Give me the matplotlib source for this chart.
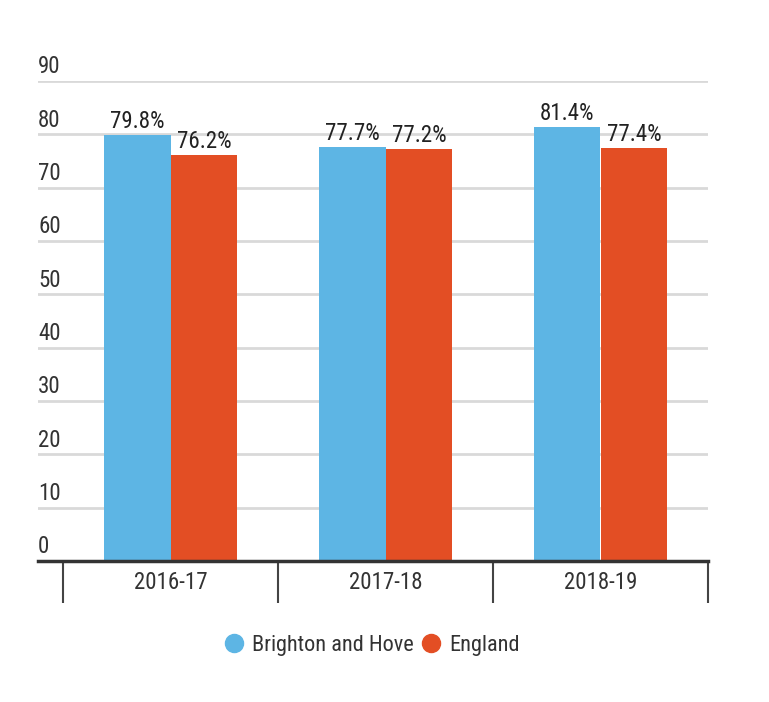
import matplotlib
matplotlib.use("Agg")
import matplotlib.pyplot as plt
import matplotlib.transforms as mtransforms
from matplotlib.lines import Line2D
import numpy as np

plt.rcParams['font.family'] = ['Roboto Condensed', 'DejaVu Sans']

categories = ["2016-17", "2017-18", "2018-19"]
series_names = ["Brighton and Hove", "England"]
brighton = [79.8, 77.7, 81.4]
england = [76.2, 77.2, 77.4]
y_ticks = [0, 10, 20, 30, 40, 50, 60, 70, 80, 90]

blue = "#5DB5E4"
red = "#E34E24"
text_col = "#333333"

W, H = 769, 702
fig = plt.figure(figsize=(W / 100, H / 100), dpi=100)
ax = fig.add_axes([38 / W, (H - 561) / H, (708 - 38) / W, (561 - 81) / H])

x = np.arange(len(categories))
bw = 0.31
ax.bar(x - bw / 2, brighton, width=bw, color=blue, zorder=3)
ax.bar(x + bw / 2, england, width=bw, color=red, zorder=3)

fs = 16.5
for xi, v in zip(x - bw / 2, brighton):
    ax.annotate(f"{v:.1f}%", xy=(xi, v), xytext=(0, 1.5), textcoords="offset points",
                ha="center", va="bottom", fontsize=fs, color="#222222")
for xi, v in zip(x + bw / 2, england):
    ax.annotate(f"{v:.1f}%", xy=(xi, v), xytext=(0, 1.5), textcoords="offset points",
                ha="center", va="bottom", fontsize=fs, color="#222222")

ax.set_xlim(-0.5 - 25 / 215, 2.5)
ax.set_ylim(0, 90)

for t in y_ticks[1:]:
    ax.axhline(t, color="#D9D9D9", lw=2, zorder=1)

trans = mtransforms.blended_transform_factory(ax.transAxes, ax.transData)
for t in y_ticks:
    ax.annotate(str(t), xy=(0, t), xycoords=trans, xytext=(0, 2), textcoords="offset points",
                ha="left", va="bottom", fontsize=fs, color=text_col)

ax.set_yticks([])
for s in ["left", "right", "top"]:
    ax.spines[s].set_visible(False)
ax.spines["bottom"].set_color("#333333")
ax.spines["bottom"].set_linewidth(2.5)
ax.spines["bottom"].set_zorder(4)

ax.set_xticks(x)
ax.set_xticklabels(categories, fontsize=fs, color=text_col)
ax.tick_params(axis="x", which="major", length=0, pad=7)
ax.set_xticks([-0.5, 0.5, 1.5, 2.5], minor=True)
ax.tick_params(axis="x", which="minor", length=30, width=1.5, color="#444444", direction="out")

handles = [Line2D([], [], marker="o", ls="", color=blue, markersize=13),
           Line2D([], [], marker="o", ls="", color=red, markersize=13)]
fig.legend(handles, series_names, loc="center", bbox_to_anchor=(368 / W, 1 - 645 / H),
           ncol=2, frameon=False, fontsize=16, handletextpad=0.0, columnspacing=0.0,
           handlelength=1.6, labelcolor=text_col)

fig.savefig("out.png", dpi=100)
